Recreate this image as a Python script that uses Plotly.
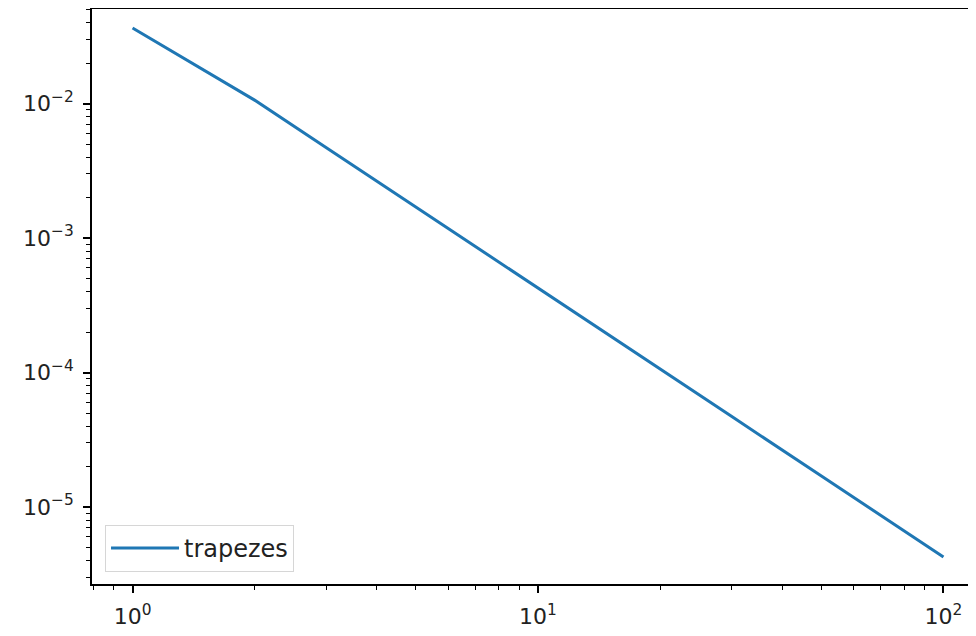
import plotly.graph_objects as go

# Data (log-log error curve)
n_values = [1, 2, 3, 4, 5, 7, 10, 20, 30, 50, 70, 100]
errors = [0.0364, 0.0106, 0.00472, 0.00266, 0.0017, 0.000867, 0.000425,
          0.000106, 4.72e-5, 1.7e-5, 8.67e-6, 4.25e-6]
series_name = "trapezes"

x_major = [1, 10, 100]
x_major_text = ["10<sup>0</sup>", "10<sup>1</sup>", "10<sup>2</sup>"]
y_major = [1e-5, 1e-4, 1e-3, 1e-2]
y_major_text = ["10<sup>−5</sup>", "10<sup>−4</sup>", "10<sup>−3</sup>", "10<sup>−2</sup>"]

x_minor = [m * 10 ** e for e in (-1, 0, 1, 2) for m in range(2, 10)]
y_minor = [m * 10.0 ** e for e in (-6, -5, -4, -3, -2, -1) for m in range(2, 10)]

fig = go.Figure()
fig.add_trace(go.Scatter(x=n_values, y=errors, mode="lines", name=series_name,
                         line=dict(color="#1f77b4", width=3)))

axis_common = dict(type="log", showgrid=False, zeroline=False, showline=True,
                   linecolor="black", linewidth=1.6, ticks="outside", ticklen=7,
                   tickwidth=1.6, tickcolor="black", automargin=False,
                   ticklabelstandoff=5,
                   tickfont=dict(family="DejaVu Sans", size=22, color="#222222"))

fig.update_layout(
    width=976, height=636,
    margin=dict(l=84, r=0, t=1, b=60, autoexpand=False),
    paper_bgcolor="white", plot_bgcolor="white",
    showlegend=True,
    legend=dict(x=0.0146, y=0.021, xanchor="left", yanchor="bottom",
                bordercolor="#d6d6d6", borderwidth=1, bgcolor="rgba(255,255,255,0.8)",
                itemwidth=68, entrywidth=200,
                font=dict(family="DejaVu Sans", size=24, color="#222222")),
    xaxis=dict(**axis_common, range=[-0.1, 2.1], mirror=True,
               tickmode="array", tickvals=x_major, ticktext=x_major_text,
               minor=dict(tickmode="array", tickvals=x_minor, ticks="outside",
                          ticklen=4, tickwidth=1.2, tickcolor="black", showgrid=False)),
    yaxis=dict(**axis_common, range=[-5.5725, -1.297], mirror=False,
               tickmode="array", tickvals=y_major, ticktext=y_major_text,
               minor=dict(tickmode="array", tickvals=y_minor, ticks="outside",
                          ticklen=4, tickwidth=1.2, tickcolor="black", showgrid=False)),
)

fig.write_html("out.html")
